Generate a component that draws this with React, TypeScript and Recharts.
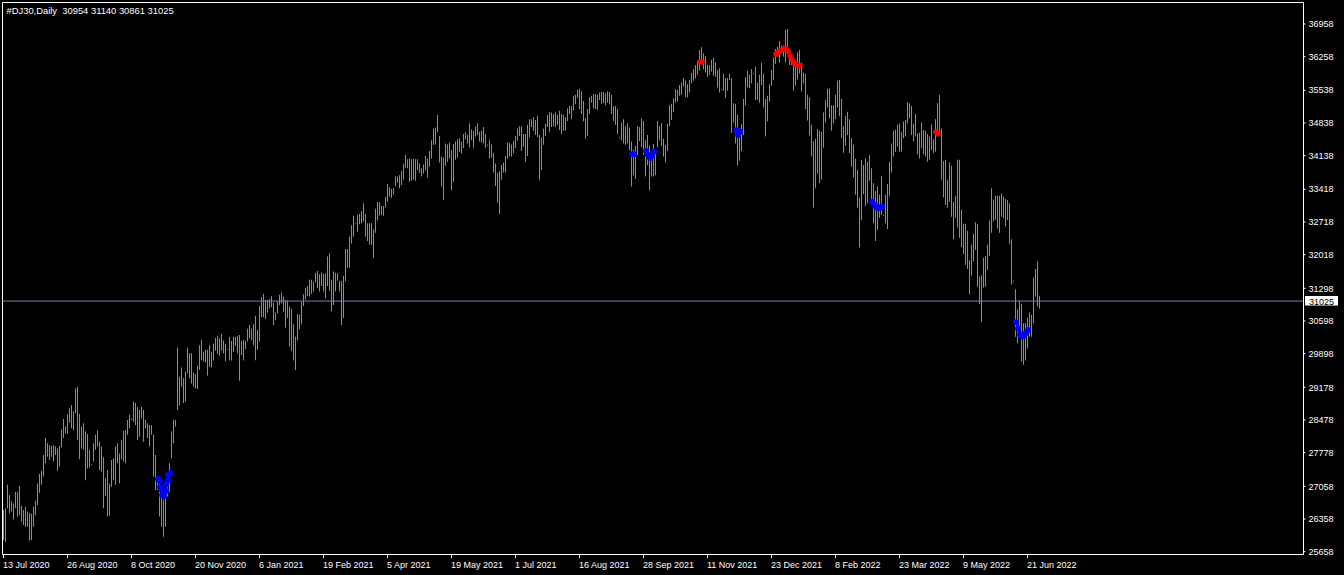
import { ComposedChart, Bar, Scatter, XAxis, YAxis, ReferenceLine } from 'recharts';

// daily high / low of #DJ30, one entry per bar
const highs = [
  26550, 26590, 27090, 26870, 26740, 26690, 26940, 26930, 27070, 26640,
  26550, 26620, 26520, 26490, 26470, 26620, 26750, 27120, 27320, 27390,
  27730, 28090, 27980, 27940, 27920, 27940, 27910, 27870, 27920, 28280,
  28500, 28340, 28600, 28730, 28800, 28660, 29160, 29190, 28610, 28340,
  28410, 28230, 28180, 27840, 27530, 27980, 28160, 28260, 28010, 27910,
  27680, 27230, 27410, 27120, 27620, 27660, 27910, 27980, 27760, 28050,
  28240, 28260, 28480, 28590, 28510, 28870, 28850, 28750, 28690, 28760,
  28690, 28480, 28410, 28370, 28370, 28160, 27730, 27270, 27190, 26840,
  26770, 26870, 27340, 27550, 28230, 28480, 28480, 30030, 29410, 29600,
  29370, 29510, 30030, 29910, 29910, 29490, 29460, 29640, 30080, 30190,
  29940, 29980, 29980, 30080, 29940, 30110, 30240, 30280, 30230, 30320,
  30180, 30110, 30000, 30250, 30170, 30260, 30260, 30280, 30300, 30170,
  30190, 30170, 30430, 30510, 30430, 30530, 30710, 30410, 30920, 31110,
  31180, 31050, 31050, 31070, 31130, 30990, 30780, 31010, 31160, 31210,
  31120, 31050, 31030, 30910, 30860, 30530, 30260, 30750, 30730, 31010,
  31170, 31310, 31350, 31480, 31480, 31440, 31630, 31670, 31600, 31640,
  31610, 31620, 31980, 32050, 31480, 31660, 31630, 31620, 31460, 31460,
  31560, 32140, 32140, 32400, 32650, 32850, 32690, 32870, 32890, 32950,
  33120, 32890, 32690, 32690, 32690, 32560, 33000, 33140, 33140, 33060,
  33060, 33260, 33530, 33460, 33430, 33440, 33700, 33700, 33720, 33810,
  33970, 34150, 34060, 34080, 34060, 34070, 34060, 34060, 33970, 33870,
  33950, 34130, 34070, 34240, 34470, 34720, 34740, 35010, 34560, 34120,
  34100, 34400, 34380, 34420, 34260, 34390, 34440, 34490, 34510, 34440,
  34600, 34640, 34580, 34830, 34700, 34670, 34770, 34830, 34650, 34670,
  34750, 34600, 34370, 34470, 34380, 34200, 33970, 33780, 33810, 33940,
  33990, 34130, 34420, 34420, 34380, 34450, 34560, 34720, 34770, 34770,
  34600, 34600, 34800, 34920, 34920, 34960, 34900, 34990, 34580, 34520,
  34720, 34820, 35010, 35070, 35060, 35030, 35070, 35010, 35100, 35030,
  35010, 34960, 35150, 35200, 35200, 35420, 35440, 35550, 35570, 35520,
  35310, 34940, 35140, 35390, 35420, 35460, 35460, 35440, 35490, 35500,
  35500, 35470, 35520, 35500, 35440, 35190, 35200, 35140, 34530, 34850,
  34920, 34770, 34830, 34740, 34440, 34260, 34350, 34770, 34750, 34940,
  34880, 34470, 34580, 34350, 34220, 34390, 34260, 34880, 34770, 34830,
  34500, 34370, 34820, 35220, 35250, 35370, 35560, 35550, 35650, 35700,
  35800, 35750, 35670, 35760, 35910, 35990, 36080, 36170, 36400, 36460,
  36330, 36270, 36080, 36070, 36190, 36240, 36140, 35970, 36010, 35560,
  35890, 35800, 35800, 35900, 35800, 35260, 35250, 35010, 34720, 34810,
  35350, 35820, 35950, 35870, 35990, 35900, 36040, 35700, 35870, 36130,
  35890, 35350, 35420, 35670, 35970, 36240, 36420, 36470, 36590, 36490,
  36490, 36830, 36850, 36400, 36240, 36120, 36170, 36350, 36400, 36130,
  35920, 35890, 35440, 35390, 34800, 34440, 34500, 34710, 34670, 34650,
  35060, 35330, 35570, 35580, 35220, 35220, 35440, 35740, 35760, 35350,
  34770, 34990, 35080, 34920, 34510, 34370, 34070, 33830, 33240, 34050,
  33940, 34080, 34010, 34150, 33870, 33550, 33380, 33480, 33300, 33700,
  32870, 33300, 33530, 34010, 34400, 34670, 34700, 34800, 34820, 34650,
  34870, 34900, 35280, 35260, 35200, 34820, 35030, 34620, 34630, 34850,
  34690, 34670, 34600, 34550, 34810, 34490, 34920, 35260, 35440, 34720,
  34020, 34050, 33620, 33990, 33920, 33150, 33280, 34050, 34050, 32980,
  32680, 32680, 32530, 31900, 32230, 32460, 32710, 32680, 31550, 31570,
  31950, 31990, 32230, 32750, 33440, 33200, 33280, 33280, 33280, 33330,
  33260, 33210, 33190, 33120, 32350, 31460, 31280, 30850, 31030, 30960,
  30550, 30550, 30670, 30780, 30730, 31530, 31710, 31880, 31140,
];

const lows = [
  25910, 25870, 26590, 26480, 26520, 26340, 26590, 26410, 26440, 26300,
  26230, 26190, 26190, 25890, 25910, 26190, 26440, 26660, 26920, 27090,
  27270, 27550, 27690, 27620, 27690, 27590, 27730, 27390, 27480, 27890,
  28090, 28190, 28180, 28420, 28300, 28260, 28620, 28050, 27640, 27870,
  27840, 27190, 27440, 27460, 27510, 27590, 27840, 27910, 27410, 27370,
  26590, 26850, 26410, 26430, 27050, 27190, 27090, 27550, 27120, 27640,
  27590, 27550, 28160, 28300, 28480, 28440, 28370, 28050, 28120, 28510,
  28010, 28300, 28090, 27910, 28160, 27270, 26980, 26980, 26410, 26190,
  25980, 26190, 26840, 26940, 27660, 27980, 28340, 28690, 28790, 29190,
  28840, 28870, 29480, 29370, 29260, 29190, 29160, 29140, 29550, 29760,
  29730, 29710, 29430, 29620, 29600, 29760, 29960, 29890, 29850, 29960,
  29910, 29730, 29980, 29760, 29750, 29940, 30060, 29910, 29320, 29870,
  29750, 30000, 30160, 30230, 30190, 30080, 29760, 29980, 30160, 30680,
  30680, 30640, 30780, 30870, 30890, 30510, 30620, 30760, 30940, 30980,
  30800, 30460, 30660, 30050, 29960, 29750, 29550, 30180, 30420, 30530,
  30920, 31060, 31130, 31120, 31180, 31230, 31420, 31300, 31230, 31350,
  31230, 31080, 31350, 31250, 30800, 30940, 31230, 31460, 31230, 30510,
  30660, 31450, 31740, 31740, 32260, 32400, 32670, 32510, 32670, 32690,
  32730, 32400, 32310, 32230, 32230, 31950, 32490, 32750, 32850, 32870,
  32850, 33030, 33150, 33260, 33230, 33300, 33490, 33560, 33440, 33510,
  33620, 33870, 33870, 33580, 33600, 33620, 33600, 33830, 33770, 33690,
  33750, 33820, 33670, 33900, 34080, 34370, 34380, 34640, 33990, 33480,
  33190, 33920, 34010, 34080, 33400, 33580, 34050, 34100, 34220, 34190,
  34300, 34490, 34400, 34320, 34470, 34310, 34550, 34580, 34440, 34420,
  34400, 34310, 34350, 34080, 34100, 33780, 33490, 33130, 32890, 33620,
  33780, 33780, 34070, 34120, 34120, 34190, 34300, 34460, 34560, 34240,
  34330, 34010, 34130, 34530, 34750, 34670, 34580, 34530, 33620, 33830,
  34370, 34560, 34750, 34650, 34750, 34770, 34750, 34800, 34690, 34600,
  34670, 34670, 34880, 35030, 34920, 35100, 35240, 35380, 35140, 35030,
  34870, 34500, 34560, 35030, 35270, 35150, 35140, 35120, 35330, 35250,
  35260, 35220, 35270, 35240, 35030, 34880, 34800, 34600, 34510, 34470,
  34400, 34370, 34400, 34260, 33480, 33720, 33640, 34150, 34450, 34330,
  34150, 33690, 33940, 33390, 33690, 33690, 33720, 34320, 34470, 34350,
  34120, 33990, 34240, 34770, 34900, 35080, 35270, 35300, 35420, 35440,
  35620, 35390, 35390, 35490, 35690, 35740, 35790, 35870, 35960, 36090,
  35990, 35920, 35830, 35870, 35940, 35850, 35830, 35600, 35490, 35540,
  35530, 35380, 35530, 35760, 34630, 34850, 34400, 33930, 34030, 34240,
  34580, 35210, 35600, 35580, 35690, 35880, 35330, 35330, 35270, 35650,
  35170, 34550, 34870, 35300, 35640, 35760, 36100, 36260, 36130, 36390,
  36260, 36140, 36340, 36080, 36080, 35530, 35640, 35770, 35900, 35510,
  35690, 35140, 34890, 34570, 34120, 33030, 33440, 33750, 33550, 33620,
  34310, 34850, 35170, 34940, 34670, 34830, 34920, 35170, 34990, 34520,
  34200, 34350, 34580, 34190, 33900, 33670, 33300, 33030, 32170, 32760,
  33320, 33060, 33120, 33600, 33190, 32690, 32310, 32550, 32810, 32870,
  32850, 32690, 32570, 33280, 33780, 34120, 34220, 34330, 34220, 34220,
  34510, 34550, 34830, 34940, 34580, 34440, 34550, 34170, 34080, 34300,
  34170, 34120, 34010, 34050, 34260, 34190, 34220, 34620, 34650, 33620,
  33240, 33080, 33030, 33150, 32830, 32350, 32810, 32600, 32380, 32180,
  32030, 31800, 31710, 31170, 31570, 31870, 32120, 31330, 30960, 30580,
  31310, 31330, 31690, 31990, 32490, 32730, 32760, 32580, 32490, 32830,
  32800, 32620, 32760, 32250, 31380, 31440, 30260, 30120, 30410, 29730,
  29660, 29750, 30010, 30260, 30260, 30550, 31120, 30910, 30860,
];

// bottom time scale: a label every 32 bars
const dateTickBars = [0, 32, 64, 96, 128, 160, 192, 224, 256, 288, 320, 352, 384, 416, 448, 480, 512];
const dateLabels = [
  '13 Jul 2020', '26 Aug 2020', '8 Oct 2020', '20 Nov 2020', '6 Jan 2021', '19 Feb 2021',
  '5 Apr 2021', '19 May 2021', '1 Jul 2021', '16 Aug 2021', '28 Sep 2021', '11 Nov 2021',
  '23 Dec 2021', '8 Feb 2022', '23 Mar 2022', '9 May 2022', '21 Jun 2022',
];

const priceTicks = [
  36958, 36258, 35538, 34838, 34138, 33418, 32718, 32018, 31298,
  30598, 29898, 29178, 28478, 27778, 27058, 26358, 25658,
];

// indicator dots
const blueIdx = [77, 78, 78, 79, 79, 80, 81, 81, 82, 82, 83,
  314, 315, 321, 322, 323, 324, 325, 366, 367, 368,
  434, 435, 436, 437, 438, 439, 506, 507, 508, 509, 510, 511, 512];
const blueVal = [27215, 27170, 27040, 26980, 26870, 26850, 26960, 27090, 27190, 27300, 27340,
  34170, 34170, 34240, 34150, 34090, 34130, 34230, 34680, 34580, 34650,
  33150, 33100, 33050, 33020, 33020, 33050, 30570, 30440, 30310, 30260, 30280, 30340, 30400];
const redIdx = [348, 349, 386, 387, 388, 389, 390, 391, 392, 393, 394, 395, 396, 397, 398, 466, 467];
const redVal = [36140, 36150, 36310, 36350, 36380, 36400, 36420, 36420, 36370, 36270, 36190, 36130,
  36090, 36070, 36060, 34650, 34600];

const lastPrice = 31025;
const title = '#DJ30,Daily  30954 31140 30861 31025';

const bars = highs.map((h, i) => ({ i, range: [lows[i], h] }));
const blueDots = blueIdx.map((i, k) => ({ i, v: blueVal[k] }));
const redDots = redIdx.map((i, k) => ({ i, v: redVal[k] }));

const FONT = '"Liberation Sans", Arial, sans-serif';
const Y_MIN = 25598;
const Y_MAX = 37418;
const X_MIN = -0.75;
const X_MAX = 649.75;

function DateTick(props: any) {
  const { x, y, payload } = props;
  const px = Math.round(x) - 0.5;
  const k = dateTickBars.indexOf(payload.value);
  return (
    <g>
      <line x1={px} y1={y} x2={px} y2={y + 3.5} stroke="#fff" />
      <text x={px - 0.5} y={y + 13.5} fill="#fff" fontSize={9} fontFamily={FONT}>
        {dateLabels[k]}
      </text>
    </g>
  );
}

function priceTag(props: any) {
  const { x, y, width } = props.viewBox;
  const left = x + width + 1.5;
  return (
    <g>
      <rect x={left} y={Math.round(y) - 5} width={33} height={9.5} fill="#fff" />
      <text x={left + 4} y={y + 3.5} fill="#000" fontSize={9} fontFamily={FONT}>
        {lastPrice}
      </text>
    </g>
  );
}

const blueDot = (p: any) => <circle cx={p.cx} cy={p.cy} r={3} fill="#0000ff" />;
const redDot = (p: any) => <circle cx={p.cx} cy={p.cy} r={2.75} fill="#ff0000" />;

export default function App() {
  return (
    <div style={{ position: 'relative', width: 1344, height: 575, background: '#000' }}>
      <style>{'body{margin:0;background:#000}'}</style>
      <div
        style={{
          position: 'absolute', left: 6.5, top: 5, fontSize: 9.4, lineHeight: '12px',
          color: '#fff', fontFamily: FONT, whiteSpace: 'pre', zIndex: 1,
        }}
      >
        {title}
      </div>
      <ComposedChart
        width={1344}
        height={575}
        data={bars}
        margin={{ top: 2.5, right: 0.5, bottom: 0.5, left: 2.5 }}
      >
        <XAxis
          type="number"
          dataKey="i"
          domain={[X_MIN, X_MAX]}
          allowDataOverflow
          ticks={dateTickBars}
          interval={0}
          height={20}
          axisLine={{ stroke: '#fff' }}
          tickLine={false}
          tickSize={0}
          tickMargin={0}
          tick={<DateTick />}
        />
        <YAxis
          orientation="right"
          domain={[Y_MIN, Y_MAX]}
          allowDataOverflow
          ticks={priceTicks}
          interval={0}
          width={40}
          axisLine={{ stroke: '#fff' }}
          tickLine={{ stroke: '#fff' }}
          tickSize={2}
          tickMargin={3}
          tick={{ fill: '#fff', fontSize: 9, fontFamily: FONT }}
        />
        <ReferenceLine y={Y_MAX} stroke="#fff" ifOverflow="visible" />
        <ReferenceLine x={X_MIN} stroke="#fff" ifOverflow="visible" />
        <Bar dataKey="range" fill="#32cd32" barSize={1} isAnimationActive={false} />
        <ReferenceLine y={lastPrice} stroke="#778899" label={priceTag} ifOverflow="visible" />
        <Scatter data={blueDots} dataKey="v" shape={blueDot} isAnimationActive={false} />
        <Scatter data={redDots} dataKey="v" shape={redDot} isAnimationActive={false} />
      </ComposedChart>
    </div>
  );
}
